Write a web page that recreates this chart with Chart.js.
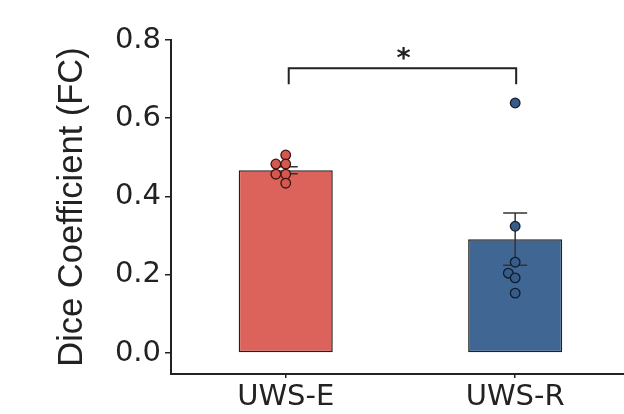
<!DOCTYPE html>
<html>
<head>
<meta charset="utf-8">
<script src="https://cdn.jsdelivr.net/npm/chart.js@4"></script>
<style>
  html, body { margin: 0; padding: 0; background: #fff; overflow: hidden; }
  #wrap { width: 636px; height: 414px; }
</style>
</head>
<body>
<div id="wrap"><canvas id="dice-chart" width="636" height="414"></canvas></div>
<script>
// groups and values
const groups = ['UWS-E', 'UWS-R'];
const means = [0.467, 0.291];
const sems = [0.009, 0.067];
const pointsE = [0.506, 0.483, 0.483, 0.457, 0.457, 0.434];
const jitterE = [0, -0.043, 0, -0.043, 0, 0];
const pointsR = [0.639, 0.324, 0.232, 0.204, 0.192, 0.153];
const jitterR = [0, 0, 0, -0.03, 0, 0];
const yTicks = [0.0, 0.2, 0.4, 0.6, 0.8];
const bracketY = 0.728;
const bracketDrop = 0.041;
const sigLabel = '*';

const ink = '#222';

const errorBars = {
    id: 'errorBars',
    afterDatasetDraw(chart, args) {
        if (args.meta.type !== 'bar') return;
        const ctx = chart.ctx;
        const x = chart.scales.x;
        const y = chart.scales.y;
        ctx.save();
        ctx.strokeStyle = '#333';
        ctx.lineWidth = 1.5;
        means.forEach((m, i) => {
            const cx = x.getPixelForValue(i);
            const top = y.getPixelForValue(m + sems[i]);
            const bot = y.getPixelForValue(m - sems[i]);
            ctx.beginPath();
            ctx.moveTo(cx, top); ctx.lineTo(cx, bot);
            ctx.moveTo(cx - 12, top); ctx.lineTo(cx + 12, top);
            ctx.moveTo(cx - 12, bot); ctx.lineTo(cx + 12, bot);
            ctx.stroke();
        });
        ctx.restore();
    },
    afterDraw(chart) {
        const ctx = chart.ctx;
        const x = chart.scales.x;
        const y = chart.scales.y;
        const x0 = x.getPixelForValue(0) + 3;
        const x1 = x.getPixelForValue(1) + 1;
        const yb = y.getPixelForValue(bracketY);
        const yl = y.getPixelForValue(bracketY - bracketDrop);
        ctx.save();
        ctx.strokeStyle = ink;
        ctx.lineWidth = 2;
        ctx.beginPath();
        ctx.moveTo(x0, yl); ctx.lineTo(x0, yb); ctx.lineTo(x1, yb); ctx.lineTo(x1, yl);
        ctx.stroke();
        ctx.fillStyle = ink;
        ctx.font = 'bold 27px "DejaVu Sans"';
        ctx.textAlign = 'center';
        ctx.textBaseline = 'alphabetic';
        ctx.fillText(sigLabel, (x0 + x1) / 2 + 1, yb - 1);
        ctx.restore();
    }
};

new Chart(document.getElementById('dice-chart'), {
    type: 'bar',
    data: {
        labels: groups,
        datasets: [
            {
                type: 'scatter',
                data: pointsE.map((v, i) => ({ x: 0 + jitterE[i], y: v })),
                xAxisID: 'xp',
                backgroundColor: 'rgb(212, 88, 78)',
                borderColor: '#3a1512',
                borderWidth: 1.3,
                pointRadius: 4.8,
                order: 0
            },
            {
                type: 'scatter',
                data: pointsR.map((v, i) => ({ x: 1 + jitterR[i], y: v })),
                xAxisID: 'xp',
                backgroundColor: 'rgb(56, 92, 138)',
                borderColor: '#101c2c',
                borderWidth: 1.3,
                pointRadius: 4.8,
                order: 0
            },
            {
                data: means,
                backgroundColor: ['rgb(220, 99, 91)', 'rgb(64, 102, 148)'],
                borderColor: ink,
                borderWidth: 1.5,
                borderSkipped: false,
                grouped: false,
                barPercentage: 0.41,
                categoryPercentage: 1.0,
                order: 1
            }
        ]
    },
    options: {
        responsive: false,
        animation: false,
        layout: { padding: { top: 40, left: 0, right: 0, bottom: 0 } },
        plugins: { legend: { display: false }, tooltip: { enabled: false } },
        scales: {
            x: {
                type: 'category',
                offset: true,
                afterFit: (s) => { s.height = 40; },
                grid: { display: true, drawOnChartArea: false, offset: false, tickLength: 4, color: ink, lineWidth: 1.5 },
                border: { display: true, color: ink, width: 2 },
                ticks: { color: ink, padding: 2, font: { family: 'DejaVu Sans', size: 29 } }
            },
            xp: {
                type: 'linear',
                display: false,
                offset: false,
                min: -0.5,
                max: 1.5
            },
            y: {
                min: -0.0537,
                max: 0.8,
                afterBuildTicks: (s) => { s.ticks = yTicks.map((v) => ({ value: v })); },
                afterFit: (s) => { s.width = 171; },
                grid: { display: true, drawOnChartArea: false, tickLength: 6, color: ink, lineWidth: 1.5 },
                border: { display: true, color: ink, width: 2 },
                ticks: {
                    color: ink,
                    padding: 4,
                    font: { family: 'DejaVu Sans', size: 29 },
                    callback: (v) => Number(v).toFixed(1)
                },
                title: {
                    display: true,
                    text: 'Dice Coefficient (FC)',
                    color: ink,
                    font: { family: 'Liberation Sans', size: 34.5 },
                    padding: { top: 52, bottom: 0 }
                }
            }
        }
    },
    plugins: [errorBars]
});
</script>
</body>
</html>
